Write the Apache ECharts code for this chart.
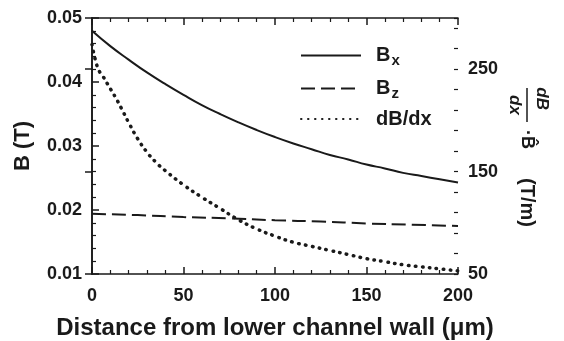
<!DOCTYPE html>
<html>
<head>
<meta charset="utf-8">
<script src="https://cdn.jsdelivr.net/npm/echarts@6/dist/echarts.min.js"></script>
<style>
  html, body { margin: 0; padding: 0; background: #fff; }
  #chart { width: 564px; height: 341px; }
</style>
</head>
<body>
<div id="chart"></div>
<script>
// field components (T) vs distance (um)
var bxX = [0, 10, 20, 30, 40, 50, 60, 70, 80, 90, 100, 110, 120, 130, 140, 150, 160, 170, 180, 190, 200];
var bxVal = [0.0480, 0.0456, 0.0435, 0.0415, 0.0397, 0.0380, 0.0364, 0.0350, 0.0337, 0.0325, 0.0314,
             0.0304, 0.0295, 0.0286, 0.0279, 0.0271, 0.0265, 0.0258, 0.0253, 0.0248, 0.0243];
var bzX = [0, 25, 50, 75, 100, 125, 150, 175, 200];
var bzVal = [0.0194, 0.0192, 0.0189, 0.0187, 0.0184, 0.0182, 0.0179, 0.0177, 0.0175];
// gradient (T/m), right axis
var gX = [0, 2, 4, 6, 8, 10, 13, 16, 20, 25, 30, 35, 40, 50, 60, 70, 80, 90, 100, 110, 120, 130, 140, 150, 160, 170, 180, 190, 200];
var gVal = [274, 258, 248, 243, 237, 231, 222, 212, 198, 182, 169, 159, 151, 137, 125, 114, 103, 94, 87, 81, 77, 73, 69, 65, 62, 59, 57, 55, 53];

var xTicks = [0, 50, 100, 150, 200];
var leftTicks = [0.01, 0.02, 0.03, 0.04, 0.05];
var rightTicks = [50, 150, 250];

function pairs(xs, ys) {
  return xs.map(function (x, i) { return [x, ys[i]]; });
}

var FONT = 'Liberation Sans, Arial, sans-serif';
var INK = '#1a1a1a';

var chart = echarts.init(document.getElementById('chart'));
var axisLine = { show: true, lineStyle: { color: INK, width: 1.6 } };
var majorTick = { inside: true, length: 7, lineStyle: { color: INK, width: 1.5 } };
var minorTick = { show: true, splitNumber: 5, length: 4, lineStyle: { color: INK, width: 1.2 } };
var tickFont = { fontFamily: FONT, fontWeight: 'bold', fontSize: 18, color: INK };

var option = {
  backgroundColor: '#fff',
  animation: false,
  grid: { left: 92, right: 106, top: 18, bottom: 67, outerBoundsMode: 'none' },
  legend: {
    orient: 'vertical',
    left: 300,
    top: 43,
    padding: 0,
    itemWidth: 60,
    itemHeight: 14,
    itemGap: 8,
    itemStyle: { opacity: 0 },
    data: ['Bx', 'Bz', 'dB/dx'],
    formatter: function (name) {
      if (name === 'dB/dx') return '{b|dB/dx}';
      return '{b|B}{s|' + name.charAt(1) + '}';
    },
    textStyle: {
      padding: [0, 0, 0, 10],
      rich: {
        b: { fontFamily: FONT, fontWeight: 'bold', fontSize: 20, color: INK, lineHeight: 24 },
        s: { fontFamily: FONT, fontWeight: 'bold', fontSize: 15, color: INK, lineHeight: 24, padding: [10, 0, 0, 1] }
      }
    }
  },
  xAxis: [{
    type: 'value', min: 0, max: 200, interval: 50,
    name: 'Distance from lower channel wall (\u03bcm)',
    nameLocation: 'middle', nameGap: 42,
    nameTextStyle: { fontFamily: FONT, fontWeight: 'bold', fontSize: 24, color: INK },
    axisLine: axisLine,
    axisTick: majorTick,
    minorTick: minorTick,
    splitLine: { show: false },
    axisLabel: Object.assign({
      margin: 13,
      formatter: function (v) { return xTicks.indexOf(v) >= 0 ? String(v) : ''; }
    }, tickFont)
  }, {
    type: 'value', min: 0, max: 200, interval: 50, position: 'top',
    axisLine: axisLine,
    axisTick: majorTick,
    minorTick: minorTick,
    splitLine: { show: false },
    axisLabel: { show: false }
  }],
  yAxis: [{
    type: 'value', min: 0.01, max: 0.05, interval: 0.01, position: 'left',
    name: 'B (T)', nameLocation: 'middle', nameGap: 58, nameRotate: 90,
    nameTextStyle: { fontFamily: FONT, fontWeight: 'bold', fontSize: 22, color: INK },
    axisLine: axisLine,
    axisTick: majorTick,
    minorTick: minorTick,
    splitLine: { show: false },
    axisLabel: Object.assign({
      margin: 10,
      formatter: function (v) {
        var r = Math.round(v * 100) / 100;
        return leftTicks.indexOf(r) >= 0 ? r.toFixed(2) : '';
      }
    }, tickFont)
  }, {
    // right axis, major ticks + labels
    type: 'value', min: 50, max: 300, interval: 100, position: 'right',
    axisLine: axisLine,
    axisTick: majorTick,
    splitLine: { show: false },
    axisLabel: Object.assign({
      margin: 10,
      formatter: function (v) { return rightTicks.indexOf(v) >= 0 ? String(v) : ''; }
    }, tickFont)
  }, {
    // right axis, minor ticks every 20
    type: 'value', min: 50, max: 300, interval: 20, position: 'right',
    axisLine: { show: false },
    axisTick: { inside: true, length: 4, lineStyle: { color: INK, width: 1.2 } },
    splitLine: { show: false },
    axisLabel: { show: false }
  }],
  graphic: [{
    type: 'group',
    x: 527, y: 88,
    rotation: -Math.PI / 2,
    children: [
      { type: 'text', x: 17, y: -6, style: { text: 'dB\u20d7', font: 'italic bold 17px ' + FONT, fill: INK, align: 'center', verticalAlign: 'bottom' } },
      { type: 'line', shape: { x1: 0, y1: 0, x2: 34, y2: 0 }, style: { stroke: INK, lineWidth: 1.5 } },
      { type: 'text', x: 17, y: 4, style: { text: 'dx', font: 'italic bold 17px ' + FONT, fill: INK, align: 'center', verticalAlign: 'top' } },
      { type: 'text', x: 42, y: 0, style: { text: '\u00b7B\u0302', font: 'bold 18px ' + FONT, fill: INK, align: 'left', verticalAlign: 'middle' } },
      { type: 'text', x: 90, y: 0, style: { text: '(T/m)', font: 'bold 20px ' + FONT, fill: INK, align: 'left', verticalAlign: 'middle' } }
    ]
  }],
  series: [{
    name: 'Bx', type: 'line', xAxisIndex: 0, yAxisIndex: 0,
    data: pairs(bxX, bxVal), smooth: true, symbol: 'none',
    lineStyle: { color: INK, width: 2, type: 'solid' }, itemStyle: { color: INK }
  }, {
    name: 'Bz', type: 'line', xAxisIndex: 0, yAxisIndex: 0,
    data: pairs(bzX, bzVal), smooth: true, symbol: 'none',
    lineStyle: { color: INK, width: 2, type: [14, 6] }, itemStyle: { color: INK }
  }, {
    name: 'dB/dx', type: 'line', xAxisIndex: 0, yAxisIndex: 1,
    data: pairs(gX, gVal), smooth: true, symbol: 'none',
    lineStyle: { color: INK, width: 3.5, type: [0.5, 6.5], cap: 'round' }, itemStyle: { color: INK }
  }]
};
chart.setOption(option);
</script>
</body>
</html>
